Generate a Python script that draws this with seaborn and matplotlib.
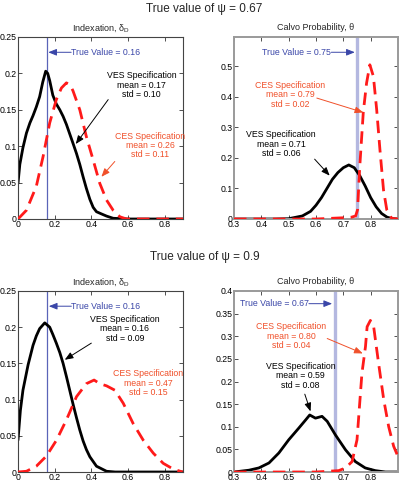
import numpy as np
import pandas as pd
import matplotlib
matplotlib.use("Agg")
import matplotlib.pyplot as plt
import seaborn as sns
from matplotlib.ticker import FormatStrFormatter

# ---------------- data ----------------
# psi = 0.67, indexation
tl_ves_x = [0.0, 0.01, 0.027, 0.046, 0.065, 0.082, 0.1, 0.118, 0.135, 0.151, 0.162, 0.173, 0.19, 0.209, 0.228, 0.246, 0.264, 0.282, 0.3, 0.319, 0.337, 0.355, 0.373, 0.392, 0.41, 0.428, 0.455, 0.483, 0.519, 0.6, 0.9]
tl_ves_y = [0.049, 0.075, 0.098, 0.118, 0.132, 0.142, 0.154, 0.168, 0.188, 0.203, 0.2, 0.19, 0.17, 0.158, 0.15, 0.141, 0.13, 0.117, 0.104, 0.09, 0.075, 0.058, 0.042, 0.027, 0.016, 0.01, 0.007, 0.004, 0.001, 0.0, 0.0]
tl_ces_x = [0.0, 0.046, 0.1, 0.137, 0.173, 0.209, 0.237, 0.264, 0.285, 0.3, 0.337, 0.373, 0.41, 0.446, 0.483, 0.519, 0.556, 0.592, 0.9]
tl_ces_y = [0.0, 0.012, 0.045, 0.086, 0.132, 0.164, 0.18, 0.187, 0.184, 0.176, 0.15, 0.113, 0.081, 0.049, 0.026, 0.012, 0.003, 0.0, 0.0]
# psi = 0.67, calvo
tr_ves_x = [0.30, 0.45, 0.50, 0.55, 0.58, 0.60, 0.62, 0.64, 0.66, 0.68, 0.70, 0.72, 0.74, 0.76, 0.78, 0.80, 0.82, 0.84, 0.86, 0.88, 0.90]
tr_ves_y = [0.0, 0.0, 0.001, 0.01, 0.025, 0.045, 0.07, 0.1, 0.13, 0.152, 0.168, 0.177, 0.168, 0.142, 0.108, 0.07, 0.04, 0.018, 0.006, 0.001, 0.0]
tr_ces_x = [0.30, 0.60, 0.70, 0.73, 0.745, 0.752, 0.76, 0.773, 0.785, 0.797, 0.81, 0.822, 0.834, 0.847, 0.859, 0.877, 0.90]
tr_ces_y = [0.0, 0.0, 0.004, 0.006, 0.01, 0.03, 0.17, 0.35, 0.445, 0.505, 0.467, 0.358, 0.226, 0.095, 0.03, 0.002, 0.0]
# psi = 0.9, indexation
bl_ves_x = [0.0, 0.013, 0.027, 0.055, 0.082, 0.1, 0.118, 0.146, 0.173, 0.19, 0.209, 0.228, 0.246, 0.264, 0.282, 0.3, 0.319, 0.337, 0.355, 0.373, 0.392, 0.428, 0.483, 0.53, 0.9]
bl_ves_y = [0.044, 0.085, 0.113, 0.148, 0.175, 0.188, 0.198, 0.206, 0.2, 0.19, 0.178, 0.165, 0.15, 0.132, 0.113, 0.094, 0.075, 0.058, 0.043, 0.031, 0.021, 0.008, 0.001, 0.0, 0.0]
bl_ces_x = [0.0, 0.046, 0.1, 0.155, 0.21, 0.264, 0.319, 0.373, 0.415, 0.446, 0.483, 0.528, 0.574, 0.628, 0.683, 0.738, 0.792, 0.847, 0.898]
bl_ces_y = [0.0, 0.001, 0.008, 0.022, 0.044, 0.072, 0.104, 0.122, 0.127, 0.122, 0.119, 0.113, 0.095, 0.067, 0.044, 0.026, 0.012, 0.004, 0.0]
# psi = 0.9, calvo
br_ves_x = [0.30, 0.355, 0.391, 0.428, 0.464, 0.50, 0.537, 0.562, 0.577, 0.598, 0.622, 0.641, 0.671, 0.708, 0.744, 0.78, 0.817, 0.854, 0.90]
br_ves_y = [0.0, 0.004, 0.009, 0.02, 0.042, 0.071, 0.097, 0.115, 0.126, 0.119, 0.123, 0.112, 0.082, 0.049, 0.023, 0.009, 0.003, 0.0, 0.0]
br_ces_x = [0.30, 0.60, 0.683, 0.708, 0.732, 0.75, 0.768, 0.781, 0.787, 0.799, 0.811, 0.829, 0.848, 0.866, 0.884, 0.90]
br_ces_y = [0.0, 0.0, 0.003, 0.009, 0.023, 0.071, 0.218, 0.277, 0.321, 0.335, 0.321, 0.24, 0.159, 0.1, 0.057, 0.034]

true_values = [0.16, 0.75, 0.16, 0.67]
suptitles = ["True value of ψ = 0.67", "True value of ψ = 0.9"]
panel_titles = ["Indexation, δ$_{\\rm D}$", "Calvo Probability, θ"]
ves_texts = ["VES Specification\nmean = 0.17\nstd = 0.10", "VES Specification\nmean = 0.71\nstd = 0.06",
             "VES Specification\nmean = 0.16\nstd = 0.09", "VES Specification\nmean = 0.59\nstd = 0.08"]
ces_texts = ["CES Specification\nmean = 0.26\nstd = 0.11", "CES Specification\nmean = 0.79\nstd = 0.02",
             "CES Specification\nmean = 0.47\nstd = 0.15", "CES Specification\nmean = 0.80\nstd = 0.04"]

# ---------------- style ----------------
sns.set_style("ticks")
plt.rcParams['font.family'] = ['Liberation Sans', 'DejaVu Sans']
plt.rcParams['mathtext.fontset'] = 'custom'
plt.rcParams['mathtext.rm'] = 'Liberation Sans'
plt.rcParams['mathtext.it'] = 'Liberation Sans'

BLUE = "#3a46a8"
RED = "#ff1a1a"
ORANGE = "#f0502a"
LAV = "#b4b8e0"

fig = plt.figure(figsize=(3.99, 4.84), dpi=100)
pos = [
    [18 / 399, 1 - 219 / 484, 165 / 399, 182 / 484],
    [234 / 399, 1 - 219 / 484, 164 / 399, 182 / 484],
    [18 / 399, 1 - 472 / 484, 165 / 399, 181 / 484],
    [234 / 399, 1 - 472 / 484, 164 / 399, 181 / 484],
]
axes = [fig.add_axes(p) for p in pos]

series = [(tl_ves_x, tl_ves_y, tl_ces_x, tl_ces_y),
          (tr_ves_x, tr_ves_y, tr_ces_x, tr_ces_y),
          (bl_ves_x, bl_ves_y, bl_ces_x, bl_ces_y),
          (br_ves_x, br_ves_y, br_ces_x, br_ces_y)]

for i, ax in enumerate(axes):
    vx, vy, cx, cy = series[i]
    right = i % 2 == 1
    tv = true_values[i]
    if right:
        ax.axvline(tv, color=LAV, lw=2.4, zorder=1)
    else:
        ax.axvline(tv, color="#5a64b8", lw=0.9, zorder=1)
    dv = pd.DataFrame({"x": vx, "y": vy})
    dc = pd.DataFrame({"x": cx, "y": cy})
    sns.lineplot(data=dc, x="x", y="y", ax=ax, color=RED, lw=2.0, zorder=3,
                 estimator=None, sort=False)
    ax.lines[-1].set_dashes([4.5, 2.5])
    sns.lineplot(data=dv, x="x", y="y", ax=ax, color="black", lw=2.0, zorder=2,
                 estimator=None, sort=False)
    ax.set_xlabel("")
    ax.set_ylabel("")
    ax.set_xlim(0.0 if not right else 0.3, 0.9)
    if right:
        ax.set_xticks([0.3, 0.4, 0.5, 0.6, 0.7, 0.8])
    else:
        ax.set_xticks([0, 0.2, 0.4, 0.6, 0.8])
    if i == 1:
        ax.set_ylim(0, 0.596)
        ax.set_yticks([0, 0.1, 0.2, 0.3, 0.4, 0.5])
    elif i == 3:
        ax.set_ylim(0, 0.4)
        ax.set_yticks([0, 0.05, 0.1, 0.15, 0.2, 0.25, 0.3, 0.35, 0.4])
    else:
        ax.set_ylim(0, 0.25)
        ax.set_yticks([0, 0.05, 0.1, 0.15, 0.2, 0.25])
    ax.xaxis.set_major_formatter(FormatStrFormatter('%g'))
    ax.yaxis.set_major_formatter(FormatStrFormatter('%g'))
    ax.tick_params(direction='in', length=3, width=0.6, labelsize=6.3, pad=1.0,
                   top=True, right=True, colors="#333333", labelcolor="black")
    sc = "#9a9a9a" if right else "#444444"
    for s in ax.spines.values():
        s.set_visible(True)
        s.set_color(sc)
        s.set_linewidth(1.4 if right else 0.8)
    ax.set_title(panel_titles[i % 2], fontsize=6.5, pad=5)

# ---- annotations ----
fs = 6.3
def arrow(ax, xy, xytext, color, lw=0.7):
    ax.annotate("", xy=xy, xytext=xytext,
                arrowprops=dict(arrowstyle='-|>,head_length=0.5,head_width=0.2', color=color, lw=lw,
                                shrinkA=0, shrinkB=0), zorder=5)

# top-left
ax = axes[0]
ax.text(0.29, 0.229, "True Value = 0.16", color=BLUE, fontsize=fs, ha='left', va='center')
arrow(ax, (0.165, 0.229), (0.29, 0.229), BLUE)
ax.text(0.675, 0.203, ves_texts[0], fontsize=fs, ha='center', va='top', linespacing=1.05, color="black")
arrow(ax, (0.315, 0.103), (0.492, 0.164), "black")
ax.text(0.72, 0.12, ces_texts[0], fontsize=fs, ha='center', va='top', linespacing=1.05, color=ORANGE)
arrow(ax, (0.455, 0.058), (0.528, 0.079), ORANGE)

# top-right
ax = axes[1]
ax.text(0.656, 0.546, "True Value = 0.75", color=BLUE, fontsize=fs, ha='right', va='center')
arrow(ax, (0.742, 0.546), (0.656, 0.546), BLUE)
ax.text(0.505, 0.452, ces_texts[1], fontsize=fs, ha='center', va='top', linespacing=1.05, color=ORANGE)
arrow(ax, (0.773, 0.349), (0.603, 0.396), ORANGE)
ax.text(0.472, 0.29, ves_texts[1], fontsize=fs, ha='center', va='top', linespacing=1.05, color="black")
arrow(ax, (0.65, 0.142), (0.595, 0.196), "black")

# bottom-left
ax = axes[2]
ax.text(0.291, 0.229, "True Value = 0.16", color=BLUE, fontsize=fs, ha='left', va='center')
arrow(ax, (0.168, 0.229), (0.291, 0.229), BLUE)
ax.text(0.583, 0.217, ves_texts[2], fontsize=fs, ha='center', va='top', linespacing=1.05, color="black")
arrow(ax, (0.255, 0.155), (0.40, 0.178), "black")
ax.text(0.71, 0.142, ces_texts[2], fontsize=fs, ha='center', va='top', linespacing=1.05, color=ORANGE)

# bottom-right
ax = axes[3]
ax.text(0.574, 0.372, "True Value = 0.67", color=BLUE, fontsize=fs, ha='right', va='center')
arrow(ax, (0.659, 0.372), (0.574, 0.372), BLUE)
ax.text(0.509, 0.331, ces_texts[3], fontsize=fs, ha='center', va='top', linespacing=1.05, color=ORANGE)
arrow(ax, (0.771, 0.262), (0.641, 0.295), ORANGE)
ax.text(0.543, 0.243, ves_texts[3], fontsize=fs, ha='center', va='top', linespacing=1.05, color="black")
arrow(ax, (0.58, 0.134), (0.559, 0.172), "black")

fig.text(204 / 399, 1 - 9 / 484, suptitles[0], fontsize=8.5, ha='center', va='center')
fig.text(205 / 399, 1 - 257 / 484, suptitles[1], fontsize=8.5, ha='center', va='center')

fig.savefig("out.png", dpi=100, facecolor="white")
